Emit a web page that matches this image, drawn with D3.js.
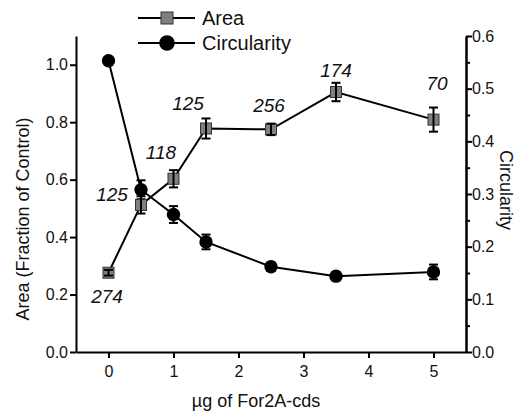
<!DOCTYPE html>
<html lang="en">
<head>
<meta charset="UTF-8">
<script src="https://cdn.jsdelivr.net/npm/d3@7"></script>
<title>Area and circularity</title>
<style>
  html, body { margin: 0; padding: 0; background: #fff; }
  svg { display: block; font-family: "Liberation Sans", Arial, sans-serif; }
</style>
</head>
<body>
<svg id="chart" width="519" height="413"></svg>
<script>
// data
var doses = [0, 0.5, 1, 1.5, 2.5, 3.5, 5];
var area = [0.276, 0.512, 0.603, 0.778, 0.775, 0.905, 0.809];
var areaErr = [0.010, 0.030, 0.030, 0.035, 0.020, 0.032, 0.042];
var circ = [0.553, 0.308, 0.261, 0.209, 0.162, 0.144, 0.152];
var circErr = [0.005, 0.018, 0.016, 0.014, 0.008, 0.008, 0.014];
var counts = ["274", "125", "118", "125", "256", "174", "70"];
var xTicks = [0, 1, 2, 3, 4, 5];
var leftTicks = [0, 0.2, 0.4, 0.6, 0.8, 1.0];
var rightTicks = [0, 0.1, 0.2, 0.3, 0.4, 0.5, 0.6];

var svg = d3.select("#chart");
var plotL = 76, plotR = 466, plotT = 36, plotB = 352;

var x = d3.scaleLinear().domain([-0.5, 5.5]).range([plotL, plotR]);
var yA = d3.scaleLinear().domain([0, 1.1]).range([plotB, plotT]);
var yC = d3.scaleLinear().domain([0, 0.6]).range([plotB, plotT]);

// axes
var xAxis = svg.append("g").attr("transform", "translate(0," + plotB + ")")
  .call(d3.axisBottom(x).tickValues(xTicks).tickFormat(d3.format("d")).tickSize(6).tickSizeOuter(0));
var lAxis = svg.append("g").attr("transform", "translate(" + plotL + ",0)")
  .call(d3.axisLeft(yA).tickValues(leftTicks).tickFormat(d3.format(".1f")).tickSize(6).tickSizeOuter(0));
var rAxis = svg.append("g").attr("transform", "translate(" + plotR + ",0)")
  .call(d3.axisRight(yC).tickValues(rightTicks).tickFormat(d3.format(".1f")).tickSize(6).tickSizeOuter(0));
// minor ticks on the right axis
svg.append("g").attr("transform", "translate(" + plotR + ",0)")
  .call(d3.axisRight(yC).tickValues(d3.range(0.05, 0.6, 0.1)).tickFormat("").tickSize(4).tickSizeOuter(0));

svg.selectAll(".domain").attr("stroke", "#000").attr("stroke-width", 2);
svg.selectAll(".tick line").attr("stroke", "#000").attr("stroke-width", 2);
svg.selectAll(".tick text").attr("font-size", 16).attr("fill", "#111")
  .attr("font-family", "Liberation Sans, Arial, sans-serif");
xAxis.selectAll(".tick text").attr("dy", "1em");
lAxis.selectAll(".tick text").attr("x", -8);
rAxis.selectAll(".tick text").attr("x", 6);

// axis titles
svg.append("text").attr("transform", "translate(29,219) rotate(-90)")
  .attr("text-anchor", "middle").attr("font-size", 18).attr("fill", "#111")
  .text("Area (Fraction of Control)");
svg.append("text").attr("transform", "translate(500,190) rotate(90)")
  .attr("text-anchor", "middle").attr("font-size", 18).attr("fill", "#111")
  .text("Circularity");
svg.append("text").attr("x", 256).attr("y", 407)
  .attr("text-anchor", "middle").attr("font-size", 18).attr("fill", "#111")
  .text("µg of For2A-cds");

// lines
var lineA = d3.line().x(function (d, i) { return x(doses[i]); }).y(function (d) { return yA(d); });
var lineC = d3.line().x(function (d, i) { return x(doses[i]); }).y(function (d) { return yC(d); });
svg.append("path").attr("d", lineA(area)).attr("fill", "none").attr("stroke", "#000").attr("stroke-width", 2);
svg.append("path").attr("d", lineC(circ)).attr("fill", "none").attr("stroke", "#000").attr("stroke-width", 2);

function errorBars(vals, errs, y) {
  var g = svg.append("g").attr("stroke", "#000").attr("stroke-width", 2);
  vals.forEach(function (v, i) {
    var cx = x(doses[i]);
    g.append("line").attr("x1", cx).attr("x2", cx).attr("y1", y(v - errs[i])).attr("y2", y(v + errs[i]));
    [v - errs[i], v + errs[i]].forEach(function (e) {
      g.append("line").attr("x1", cx - 4.5).attr("x2", cx + 4.5).attr("y1", y(e)).attr("y2", y(e));
    });
  });
}
errorBars(circ, circErr, yC);

// markers
svg.selectAll("rect.area").data(area).enter().append("rect")
  .attr("x", function (d, i) { return x(doses[i]) - 5.5; })
  .attr("y", function (d) { return yA(d) - 5.5; })
  .attr("width", 11).attr("height", 11)
  .attr("fill", "#808080").attr("stroke", "#333").attr("stroke-width", 1);
svg.selectAll("circle.circ").data(circ).enter().append("circle")
  .attr("cx", function (d, i) { return x(doses[i]); })
  .attr("cy", function (d) { return yC(d); })
  .attr("r", 6.7).attr("fill", "#000");

// error bars drawn over the area markers
errorBars(area, areaErr, yA);

// count labels (centre positions)
var labelPos = [[107, 303], [112, 201], [161, 159], [188, 110], [269, 112], [336, 77], [437, 90]];
svg.selectAll("text.count").data(counts).enter().append("text")
  .attr("x", function (d, i) { return labelPos[i][0]; })
  .attr("y", function (d, i) { return labelPos[i][1]; })
  .attr("text-anchor", "middle").attr("font-size", 19).attr("font-style", "italic").attr("fill", "#111")
  .text(function (d) { return d; });

// legend
var legend = svg.append("g");
[["Area", 18, "rect"], ["Circularity", 43, "circle"]].forEach(function (l) {
  legend.append("line").attr("x1", 138).attr("x2", 195).attr("y1", l[1]).attr("y2", l[1])
    .attr("stroke", "#000").attr("stroke-width", 2);
  if (l[2] === "rect") {
    legend.append("rect").attr("x", 161).attr("y", l[1] - 6).attr("width", 12).attr("height", 12)
      .attr("fill", "#808080").attr("stroke", "#333").attr("stroke-width", 1);
  } else {
    legend.append("circle").attr("cx", 167).attr("cy", l[1]).attr("r", 7.8).attr("fill", "#000");
  }
  legend.append("text").attr("x", 202).attr("y", l[1] + 7).attr("font-size", 20).attr("fill", "#111").text(l[0]);
});
</script>
</body>
</html>
